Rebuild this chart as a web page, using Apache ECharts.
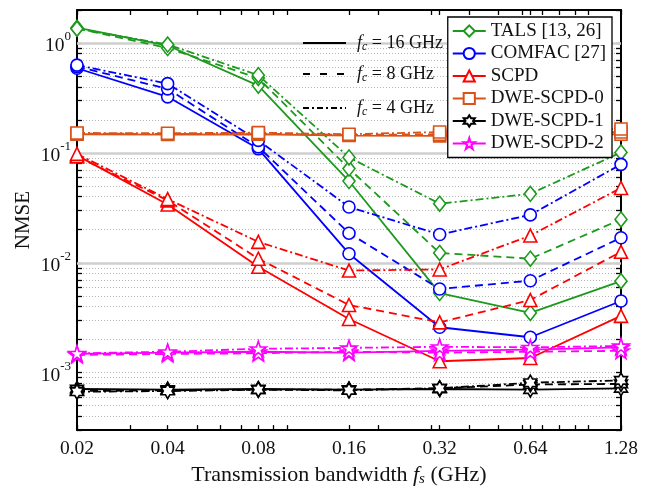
<!DOCTYPE html>
<html>
<head>
<meta charset="utf-8">
<script src="https://cdn.jsdelivr.net/npm/echarts@6/dist/echarts.min.js"></script>
<style>
  html, body { margin: 0; padding: 0; background: #fff; }
  #chart { width: 651px; height: 492px; }
</style>
</head>
<body>
<div id="chart"></div>
<script>
// transmission bandwidth fs (GHz)
const fs = [0.02, 0.04, 0.08, 0.16, 0.32, 0.64, 1.28]

// NMSE, one array per method and carrier frequency fc
const tals16 = [1.38, 0.95, 0.41, 0.0555, 0.0053, 0.0035, 0.0068]
const tals8 = [1.36, 0.90, 0.48, 0.072, 0.0123, 0.0109, 0.0248]
const tals4 = [1.35, 0.97, 0.51, 0.091, 0.0345, 0.0425, 0.101]

const comfac16 = [0.59, 0.324, 0.109, 0.0121, 0.00259, 0.0021, 0.00449]
const comfac8 = [0.61, 0.383, 0.1135, 0.0186, 0.00578, 0.00687, 0.0169]
const comfac4 = [0.63, 0.427, 0.13, 0.0322, 0.0181, 0.0273, 0.0787]

const scpd16 = [0.095, 0.0339, 0.0092, 0.00308, 0.00127, 0.00136, 0.00329]
const scpd8 = [0.093, 0.037, 0.0109, 0.00413, 0.00287, 0.00458, 0.0126]
const scpd4 = [0.098, 0.038, 0.0155, 0.0085, 0.0087, 0.0177, 0.048]

const dwe0_16 = [0.148, 0.147, 0.148, 0.144, 0.143, 0.145, 0.148]
const dwe0_8 = [0.150, 0.149, 0.150, 0.146, 0.148, 0.150, 0.155]
const dwe0_4 = [0.152, 0.151, 0.153, 0.148, 0.155, 0.158, 0.165]

const dwe1_16 = [0.00071, 0.0007, 0.00071, 0.0007, 0.00071, 0.0007, 0.00072]
const dwe1_8 = [0.00068, 0.00069, 0.0007, 0.0007, 0.00072, 0.00078, 0.00079]
const dwe1_4 = [0.00067, 0.00068, 0.0007, 0.00069, 0.00072, 0.00081, 0.00085]

const dwe2_16 = [0.00148, 0.00152, 0.00155, 0.00152, 0.00158, 0.00162, 0.00170]
const dwe2_8 = [0.00145, 0.00148, 0.0015, 0.00155, 0.00152, 0.00155, 0.00158]
const dwe2_4 = [0.0015, 0.00155, 0.00165, 0.00168, 0.00172, 0.0017, 0.00175]

// tick values
const xLabels = [0.02, 0.04, 0.08, 0.16, 0.32, 0.64, 1.28]
const xTicks = [0.02, 0.03, 0.04, 0.05, 0.06, 0.07, 0.08, 0.09, 0.1, 0.16, 0.2, 0.3, 0.32, 0.4, 0.5, 0.6, 0.64, 0.7, 0.8, 0.9, 1, 1.28]
const yLabels = [0.001, 0.01, 0.1, 1]
const yTicks = [
  0.0003, 0.0004, 0.0005, 0.0006, 0.0007, 0.0008, 0.0009,
  0.001, 0.002, 0.003, 0.004, 0.005, 0.006, 0.007, 0.008, 0.009,
  0.01, 0.02, 0.03, 0.04, 0.05, 0.06, 0.07, 0.08, 0.09,
  0.1, 0.2, 0.3, 0.4, 0.5, 0.6, 0.7, 0.8, 0.9, 1, 2
]

const serif = 'Liberation Serif'
const star5 = 'path://M10,0 L12.245,6.91 L19.511,6.91 L13.633,11.18 L15.878,18.09 L10,13.82 L4.122,18.09 L6.367,11.18 L0.489,6.91 L7.755,6.91 Z'
const star6 = 'path://M10,0 L12.887,5 L18.66,5 L15.774,10 L18.66,15 L12.887,15 L10,20 L7.113,15 L1.34,15 L4.226,10 L1.34,5 L7.113,5 Z'

const methods = [
  { name: 'TALS [13, 26]', color: '#1d9a1d', symbol: 'diamond', size: [12, 15], sets: [tals16, tals8, tals4] },
  { name: 'COMFAC [27]', color: '#0000ff', symbol: 'circle', size: 12, sets: [comfac16, comfac8, comfac4] },
  { name: 'SCPD', color: '#ff0000', symbol: 'triangle', size: 13, sets: [scpd16, scpd8, scpd4] },
  { name: 'DWE-SCPD-0', color: '#d95319', symbol: 'rect', size: 12, sets: [dwe0_16, dwe0_8, dwe0_4] },
  { name: 'DWE-SCPD-1', color: '#000000', symbol: star6, size: 15, sets: [dwe1_16, dwe1_8, dwe1_4] },
  { name: 'DWE-SCPD-2', color: '#ff00ff', symbol: star5, size: 16, sets: [dwe2_16, dwe2_8, dwe2_4] }
]
const fcNames = ['', ' fc=8', ' fc=4']
const dashes = ['solid', [8, 5], [8, 3, 2, 3]]

const series = [{
  // major grid lines
  type: 'line',
  name: 'grid',
  data: [],
  markLine: {
    silent: true,
    z: 1,
    symbol: 'none',
    label: { show: false },
    lineStyle: { color: '#cfcfcf', width: 2.5, type: 'solid' },
    data: yLabels.map(v => ({ yAxis: v }))
  }
}]
methods.forEach(m => {
  m.sets.forEach((vals, j) => {
    series.push({
      name: m.name + fcNames[j],
      type: 'line',
      clip: false,
      data: fs.map((x, i) => [x, vals[i]]),
      symbol: m.symbol,
      symbolSize: m.size,
      symbolKeepAspect: true,
      lineStyle: { color: m.color, width: 1.8, type: dashes[j] },
      itemStyle: { color: '#fff', borderColor: m.color, borderWidth: 1.6 }
    })
  })
})

const tickStyle = { color: '#000', width: 1.3 }
const lineStyle = { color: '#000', width: 2 }

const myChart = echarts.init(document.getElementById('chart'))
myChart.setOption({
  animation: false,
  backgroundColor: '#fff',
  grid: { left: 77, right: 30, top: 10, bottom: 55 },
  legend: {
    data: methods.map(m => m.name),
    orient: 'vertical',
    right: 39,
    top: 17,
    backgroundColor: '#fff',
    borderColor: '#000',
    borderWidth: 1.3,
    padding: [4, 6, 4, 4],
    itemWidth: 33,
    itemHeight: 14,
    itemGap: 2.5,
    textStyle: { fontFamily: serif, fontSize: 19, color: '#111', lineHeight: 20 }
  },
  xAxis: [{
    type: 'log',
    logBase: 10,
    min: 0.02,
    max: 1.28,
    position: 'bottom',
    name: 'Transmission bandwidth {i|f}{sub|s} (GHz)',
    nameLocation: 'middle',
    nameGap: 31,
    nameTextStyle: {
      fontFamily: serif, fontSize: 22, color: '#111', padding: [0, 20, 0, 0],
      rich: {
        i: { fontFamily: serif, fontSize: 22, fontStyle: 'italic', color: '#111', lineHeight: 24 },
        sub: { fontFamily: serif, fontSize: 15, fontStyle: 'italic', color: '#111', lineHeight: 14, verticalAlign: 'bottom' }
      }
    },
    axisLine: { show: true, onZero: false, lineStyle: lineStyle },
    axisTick: { show: true, inside: true, length: 5, customValues: xTicks, lineStyle: tickStyle },
    axisLabel: { customValues: xLabels, formatter: v => String(v), fontFamily: serif, fontSize: 19.5, color: '#111', margin: 9 },
    splitLine: { show: false }
  }, {
    type: 'log',
    logBase: 10,
    min: 0.02,
    max: 1.28,
    position: 'top',
    axisLine: { show: true, onZero: false, lineStyle: lineStyle },
    axisTick: { show: true, inside: true, length: 5, customValues: xTicks, lineStyle: tickStyle },
    axisLabel: { show: false },
    splitLine: { show: false }
  }],
  yAxis: [{
    type: 'log',
    logBase: 10,
    min: 0.0003,
    max: 2,
    position: 'left',
    name: 'NMSE',
    nameLocation: 'middle',
    nameGap: 43,
    nameMoveOverlap: false,
    nameTextStyle: { fontFamily: serif, fontSize: 21, color: '#111' },
    axisLine: { show: true, onZero: false, lineStyle: lineStyle },
    axisTick: { show: true, inside: true, length: 5, customValues: yTicks, lineStyle: tickStyle },
    axisLabel: {
      customValues: yLabels,
      margin: 6,
      formatter: v => '{b|10}{s|' + Math.round(Math.log10(v)) + '}',
      rich: {
        b: { fontFamily: serif, fontSize: 19.5, color: '#111', lineHeight: 26, verticalAlign: 'bottom' },
        s: { fontFamily: serif, fontSize: 13, color: '#111', lineHeight: 14, verticalAlign: 'top' }
      }
    },
    splitLine: { show: true, lineStyle: { color: '#b4b4b4', width: 1, type: [1, 2] } }
  }, {
    type: 'log',
    logBase: 10,
    min: 0.0003,
    max: 2,
    position: 'right',
    axisLine: { show: true, onZero: false, lineStyle: lineStyle },
    axisTick: { show: true, inside: true, length: 5, customValues: yTicks, lineStyle: tickStyle },
    axisLabel: { show: false },
    splitLine: { show: false }
  }],
  graphic: [
    { type: 'line', z: 10, shape: { x1: 303, y1: 43, x2: 346, y2: 43 }, style: { stroke: '#000', lineWidth: 2 } },
    { type: 'line', z: 10, shape: { x1: 303, y1: 74, x2: 346, y2: 74 }, style: { stroke: '#000', lineWidth: 2, lineDash: [7, 10] } },
    { type: 'line', z: 10, shape: { x1: 303, y1: 108, x2: 346, y2: 108 }, style: { stroke: '#000', lineWidth: 2, lineDash: [6, 3, 2, 3] } },
    { type: 'text', z: 10, x: 357, y: 43, style: fcText('16') },
    { type: 'text', z: 10, x: 357, y: 74, style: fcText('8') },
    { type: 'text', z: 10, x: 357, y: 108, style: fcText('4') }
  ],
  series: series
})

function fcText(v) {
  return {
    text: '{i|f}{sub|c}{t| = ' + v + ' GHz}',
    verticalAlign: 'middle',
    rich: {
      i: { fontFamily: serif, fontSize: 18, fontStyle: 'italic', fill: '#111', lineHeight: 20 },
      sub: { fontFamily: serif, fontSize: 12, fontStyle: 'italic', fill: '#111', lineHeight: 11, verticalAlign: 'bottom' },
      t: { fontFamily: serif, fontSize: 18, fill: '#111', lineHeight: 20 }
    }
  }
}
</script>
</body>
</html>
